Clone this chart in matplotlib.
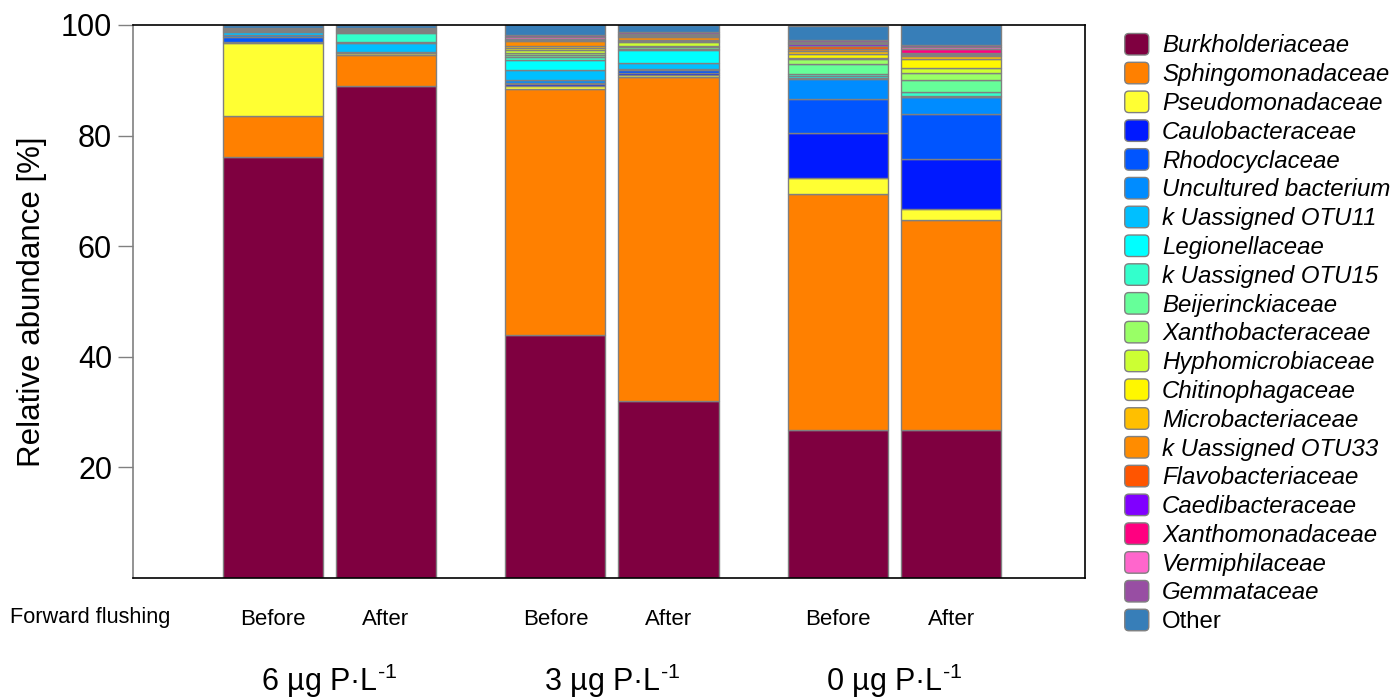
import matplotlib
matplotlib.use("Agg")
import matplotlib.pyplot as plt
import numpy as np
from matplotlib.patches import Patch, FancyBboxPatch
from matplotlib.legend_handler import HandlerPatch
from matplotlib.transforms import blended_transform_factory

plt.rcParams["font.family"] = ["Liberation Sans", "DejaVu Sans"]
plt.rcParams["mathtext.fontset"] = "custom"
plt.rcParams["mathtext.rm"] = "Liberation Sans"

# samples, left to right
samples = ["6 Before", "6 After", "3 Before", "3 After", "0 Before", "0 After"]
sample_labels = ["Before", "After", "Before", "After", "Before", "After"]
groups = ["6 µg P·L$^{\\text{-}1}$", "3 µg P·L$^{\\text{-}1}$", "0 µg P·L$^{\\text{-}1}$"]

# relative abundance [%] per family, one value per sample (stacked bottom -> top)
families = [
    "Burkholderiaceae", "Sphingomonadaceae", "Pseudomonadaceae", "Caulobacteraceae",
    "Rhodocyclaceae", "Uncultured bacterium", "k Uassigned OTU11", "Legionellaceae",
    "k Uassigned OTU15", "Beijerinckiaceae", "Xanthobacteraceae", "Hyphomicrobiaceae",
    "Chitinophagaceae", "Microbacteriaceae", "k Uassigned OTU33", "Flavobacteriaceae",
    "Caedibacteraceae", "Xanthomonadaceae", "Vermiphilaceae", "Gemmataceae", "Other",
]
burkholderiaceae = [76.2, 89.0, 43.9, 32.0, 26.8, 26.7]
sphingomonadaceae = [7.3, 5.6, 44.6, 58.6, 42.6, 38.0]
pseudomonadaceae = [13.2, 0.3, 0.5, 0.4, 3.0, 2.0]
caulobacteraceae = [0.2, 0.05, 0.3, 0.4, 8.0, 9.1]
rhodocyclaceae = [1.0, 0.05, 0.3, 0.4, 6.2, 8.1]
uncultured = [0.2, 0.2, 0.4, 0.2, 3.6, 3.0]
otu11 = [0.7, 1.6, 1.8, 1.2, 0.3, 0.1]
legionellaceae = [0.1, 0.2, 1.9, 2.2, 0.3, 0.1]
otu15 = [0.1, 1.5, 0.6, 0.3, 0.4, 0.8]
beijerinckiaceae = [0.05, 0.2, 0.3, 0.3, 1.7, 2.1]
xanthobacteraceae = [0.05, 0.1, 0.3, 0.2, 0.9, 1.3]
hyphomicrobiaceae = [0.05, 0.1, 0.5, 0.65, 0.2, 1.0]
chitinophagaceae = [0.05, 0.05, 0.35, 0.2, 0.8, 1.5]
microbacteriaceae = [0.1, 0.2, 0.4, 0.3, 0.5, 0.6]
otu33 = [0.05, 0.1, 0.9, 0.4, 0.4, 0.2]
flavobacteriaceae = [0.05, 0.05, 0.2, 0.2, 0.5, 0.1]
caedibacteraceae = [0.0, 0.0, 0.1, 0.1, 0.3, 0.3]
xanthomonadaceae = [0.0, 0.05, 0.1, 0.1, 0.2, 0.6]
vermiphilaceae = [0.05, 0.05, 0.3, 0.2, 0.2, 0.5]
gemmataceae = [0.05, 0.1, 0.35, 0.4, 0.4, 0.2]
other = [0.5, 0.5, 2.0, 1.25, 2.6, 3.7]

abundance = [
    burkholderiaceae, sphingomonadaceae, pseudomonadaceae, caulobacteraceae,
    rhodocyclaceae, uncultured, otu11, legionellaceae, otu15, beijerinckiaceae,
    xanthobacteraceae, hyphomicrobiaceae, chitinophagaceae, microbacteriaceae,
    otu33, flavobacteriaceae, caedibacteraceae, xanthomonadaceae, vermiphilaceae,
    gemmataceae, other,
]

colors = [
    "#7F0040", "#FF8000", "#FFFF33", "#0019FF", "#0055FF", "#008CFF", "#00BFFF",
    "#00FFFF", "#33FFCC", "#66FF99", "#99FF66", "#CCFF33", "#FFF700", "#FFBF00",
    "#FF8C00", "#FF5500", "#8000FF", "#FF0080", "#FF66CC", "#984EA3", "#377EB8",
]

# bar centres: pairs within a group 1 apart, groups 2.5 apart
x = np.array([0.0, 1.0, 2.5, 3.5, 5.0, 6.0])
group_x = [0.5, 3.0, 5.5]
BAR_W = 0.885
EDGE = "#808080"

fig = plt.figure(figsize=(13.92, 6.98), dpi=100)
ax = fig.add_axes([0.0955, 0.1719, 0.684, 0.7923])

bottom = np.zeros(len(samples))
for vals, c in zip(abundance, colors):
    vals = np.asarray(vals)
    ax.bar(x, vals, width=BAR_W, bottom=bottom, color=c,
           edgecolor=EDGE, linewidth=1.0)
    bottom += vals

ax.set_xlim(-1.239, 7.186)
ax.set_ylim(0, 100)
ax.set_yticks([20, 40, 60, 80, 100])
ax.tick_params(axis="y", labelsize=22, length=11, width=1, color=EDGE, pad=4)
ax.set_ylabel("Relative abundance [%]", fontsize=22.5, labelpad=10)

ax.set_xticks(x)
ax.set_xticklabels(sample_labels, fontsize=16)
ax.tick_params(axis="x", length=0, pad=22)

for side in ("top", "right", "bottom"):
    ax.spines[side].set_color("black")
    ax.spines[side].set_linewidth(1.2)
ax.spines["left"].set_color(EDGE)
ax.spines["left"].set_linewidth(1.2)

trans = blended_transform_factory(ax.transData, ax.transAxes)
ax.text(-1.62, -0.072, "Forward flushing", transform=trans, fontsize=15.7,
        ha="center", va="center")
for gx, g in zip(group_x, groups):
    ax.text(gx, -0.186, g, transform=trans, fontsize=22, ha="center", va="center")


# rounded legend swatches
def rounded_patch(legend, orig_handle, xdescent, ydescent, width, height, fontsize):
    return FancyBboxPatch((-xdescent, -ydescent), width, height,
                          boxstyle="round,pad=0,rounding_size=3",
                          mutation_aspect=1)


handles = [Patch(facecolor=c, edgecolor=EDGE, linewidth=1.0) for c in colors]
leg = fig.legend(handles, families, loc="upper left",
                 bbox_to_anchor=(0.808, 0.952), frameon=False, fontsize=17.3,
                 handlelength=1.0, handleheight=1.0, labelspacing=0.2,
                 handletextpad=0.55, borderpad=0, borderaxespad=0,
                 handler_map={Patch: HandlerPatch(patch_func=rounded_patch)})
for t in leg.get_texts():
    if t.get_text() != "Other":
        t.set_fontstyle("italic")

fig.savefig("out.png", dpi=100)
